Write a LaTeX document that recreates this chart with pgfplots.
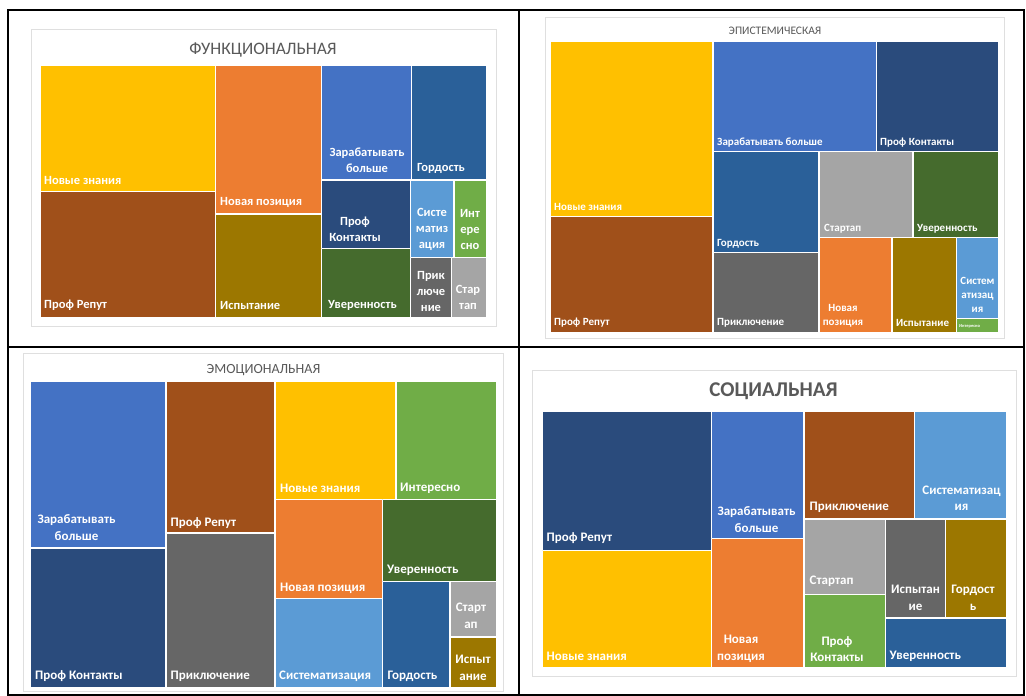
\documentclass[border=0pt]{standalone}
\usepackage{fontspec}
\setmainfont{Carlito}
\usepackage{pgfplots}
\pgfplotsset{compat=1.18}

\definecolor{cYel}{HTML}{FFC000}
\definecolor{cOra}{HTML}{ED7D31}
\definecolor{cBlu}{HTML}{4472C4}
\definecolor{cDkB}{HTML}{2A4B7C}
\definecolor{cBrn}{HTML}{A0501A}
\definecolor{cOli}{HTML}{9C7700}
\definecolor{cGor}{HTML}{2A6099}
\definecolor{cSky}{HTML}{5B9BD5}
\definecolor{cGrn}{HTML}{70AD47}
\definecolor{cDkG}{HTML}{456B2D}
\definecolor{cDGr}{HTML}{666666}
\definecolor{cLGr}{HTML}{A5A5A5}
\definecolor{cTit}{HTML}{595959}

\tikzset{
    lab/.style={anchor=west, inner sep=0pt, text=white},
    labc/.style={anchor=center, align=center, inner sep=0pt, text=white},
    fA/.style={font=\fontsize{12.5}{16}\selectfont\bfseries},
    fB/.style={font=\fontsize{11}{14}\selectfont\bfseries},
    fC/.style={font=\fontsize{13}{17}\selectfont\bfseries},
    fD/.style={font=\fontsize{13}{16.5}\selectfont\bfseries},
}

% one tile of a treemap: x0, y0, x1, y1 (pixels, y down), colour
\newcommand{\tile}[5]{%
  \addplot[fill=#5, draw=white, line width=1.2pt] coordinates
    {(#1,#2) (#3,#2) (#3,#4) (#1,#4) (#1,#2)};}

\begin{document}
\begin{tikzpicture}
\useasboundingbox (0,0) rectangle (1026pt,696pt);
\begin{axis}[
    at={(0,0)}, anchor=south west,
    width=1026pt, height=696pt, scale only axis,
    xmin=0, xmax=1026, ymin=0, ymax=696, y dir=reverse,
    hide axis, clip=false,
]
% chart frames
\draw[gray!25, fill=white] (axis cs:31,29) rectangle (axis cs:496,326);
\draw[gray!25, fill=white] (axis cs:545,17) rectangle (axis cs:1004,338);
\draw[gray!25, fill=white] (axis cs:23,353) rectangle (axis cs:503,691);
\draw[gray!25, fill=white] (axis cs:532,370) rectangle (axis cs:1016,676);

% ---------- ФУНКЦИОНАЛЬНАЯ ----------
\tile{40}{65}{215.5}{191.5}{cYel}
\tile{40}{191.5}{215.5}{318}{cBrn}
\tile{215.5}{65}{321.5}{214}{cOra}
\tile{215.5}{214}{321.5}{318}{cOli}
\tile{321.5}{65}{411.5}{180}{cBlu}
\tile{411.5}{65}{486.5}{180}{cGor}
\tile{321.5}{180}{410.5}{248.5}{cDkB}
\tile{321.5}{248.5}{410.5}{318}{cDkG}
\tile{410.5}{180}{454}{257.5}{cSky}
\tile{454}{180}{486.5}{257.5}{cGrn}
\tile{410.5}{257.5}{451.5}{318}{cDGr}
\tile{451.5}{257.5}{486.5}{318}{cLGr}
\node[text=cTit, font=\fontsize{17.5}{17.5}\selectfont] at (axis cs:263,50) {ФУНКЦИОНАЛЬНАЯ};
\node[lab, fA] at (axis cs:44,180) {Новые знания};
\node[lab, fA] at (axis cs:44,305) {Проф Репут};
\node[lab, fA] at (axis cs:220,202) {Новая позиция};
\node[lab, fA] at (axis cs:220,305) {Испытание};
\node[labc, fA] at (axis cs:367,160) {Зарабатывать\\больше};
\node[lab, fA] at (axis cs:417,168) {Гордость};
\node[labc, fA] at (axis cs:355,229) {Проф\\Контакты};
\node[labc, fA] at (axis cs:432,229.5) {Систе\\матиз\\ация};
\node[labc, fA] at (axis cs:470,229.5) {Инт\\ере\\сно};
\node[lab, fA] at (axis cs:328,305) {Уверенность};
\node[labc, fA] at (axis cs:431,291) {Прик\\лючe\\ние};
\node[labc, fA] at (axis cs:468,297.5) {Стар\\тап};

% ---------- ЭПИСТЕМИЧЕСКАЯ ----------
\tile{550}{41}{713}{216.5}{cYel}
\tile{550}{216.5}{713}{332.5}{cBrn}
\tile{713}{41}{876.5}{151.5}{cBlu}
\tile{876.5}{41}{998.5}{151.5}{cDkB}
\tile{713}{151.5}{819}{252.5}{cGor}
\tile{713}{252.5}{819}{332.5}{cDGr}
\tile{819}{151.5}{913}{237.5}{cLGr}
\tile{913}{151.5}{998.5}{237.5}{cDkG}
\tile{819}{237.5}{892}{332.5}{cOra}
\tile{892}{237.5}{956.5}{332.5}{cOli}
\tile{956.5}{237.5}{998.5}{318.5}{cSky}
\tile{956.5}{318.5}{998.5}{332.5}{cGrn}
\node[text=cTit, font=\fontsize{11.5}{11.5}\selectfont] at (axis cs:775,31) {ЭПИСТЕМИЧЕСКАЯ};
\node[lab, fB] at (axis cs:554,206.5) {Новые знания};
\node[lab, fB] at (axis cs:554,323) {Проф Репут};
\node[lab, fB] at (axis cs:717,142.5) {Зарабатывать больше};
\node[lab, fB] at (axis cs:880,142.5) {Проф Контакты};
\node[lab, fB] at (axis cs:717,244) {Гордость};
\node[lab, fB] at (axis cs:717,323) {Приключение};
\node[lab, fB] at (axis cs:824,228.5) {Стартап};
\node[lab, fB] at (axis cs:917,228.5) {Уверенность};
\node[labc, fB] at (axis cs:843,316) {Новая\\позиция};
\node[lab, fB] at (axis cs:896,323) {Испытание};
\node[labc, fB] at (axis cs:977.5,295) {Систем\\атизац\\ия};
\node[lab, font=\fontsize{4.5}{5}\selectfont\bfseries] at (axis cs:959,326.5) {Интересно};

% ---------- ЭМОЦИОНАЛЬНАЯ ----------
\tile{30}{381.5}{166}{548}{cBlu}
\tile{30}{548}{166}{687.5}{cDkB}
\tile{166}{381.5}{275}{533}{cBrn}
\tile{166}{533}{275}{687.5}{cDGr}
\tile{275}{381.5}{396}{499.5}{cYel}
\tile{396}{381.5}{496.5}{499.5}{cGrn}
\tile{275}{499.5}{382.5}{598.5}{cOra}
\tile{275}{598.5}{382.5}{687.5}{cSky}
\tile{382.5}{499.5}{496.5}{581.5}{cDkG}
\tile{382.5}{581.5}{450}{687.5}{cGor}
\tile{450}{581.5}{496.5}{637}{cLGr}
\tile{450}{637}{496.5}{687.5}{cOli}
\node[text=cTit, font=\fontsize{14}{14}\selectfont] at (axis cs:263.5,370) {ЭМОЦИОНАЛЬНАЯ};
\node[labc, fC] at (axis cs:76.5,528) {Зарабатывать\\больше};
\node[lab, fC] at (axis cs:170.5,523) {Проф Репут};
\node[lab, fC] at (axis cs:35,676.5) {Проф Контакты};
\node[lab, fC] at (axis cs:170.5,676.5) {Приключение};
\node[lab, fC] at (axis cs:280,488) {Новые знания};
\node[lab, fC] at (axis cs:400,488) {Интересно};
\node[lab, fC] at (axis cs:387,570.5) {Уверенность};
\node[lab, fC] at (axis cs:280,588) {Новая позиция};
\node[lab, fC] at (axis cs:279,676.5) {Систематизация};
\node[lab, fC] at (axis cs:387.5,676.5) {Гордость};
\node[labc, fC] at (axis cs:471,615.5) {Старт\\ап};
\node[labc, fC] at (axis cs:473,667.5) {Испыт\\ание};

% ---------- СОЦИАЛЬНАЯ ----------
\tile{542.5}{411}{711.5}{550.5}{cDkB}
\tile{542.5}{550.5}{711.5}{668}{cYel}
\tile{711.5}{411}{804}{538.5}{cBlu}
\tile{711.5}{538.5}{804}{668}{cOra}
\tile{804}{411}{914.5}{519}{cBrn}
\tile{914.5}{411}{1006.5}{519}{cSky}
\tile{804}{519}{885.5}{594.5}{cLGr}
\tile{804}{594.5}{885.5}{668}{cGrn}
\tile{885.5}{519}{945.5}{618}{cDGr}
\tile{945.5}{519}{1006.5}{618}{cOli}
\tile{885.5}{618}{1006.5}{668}{cGor}
\node[text=cTit, font=\fontsize{21}{21}\selectfont\bfseries] at (axis cs:773.5,391.5) {СОЦИАЛЬНАЯ};
\node[lab, fD] at (axis cs:546.5,538.5) {Проф Репут};
\node[lab, fD] at (axis cs:546.5,656.5) {Новые знания};
\node[labc, fD] at (axis cs:756.5,519.5) {Зарабатывать\\больше};
\node[labc, fD] at (axis cs:741,649) {Новая\\позиция};
\node[lab, fD] at (axis cs:809.5,507.5) {Приключение};
\node[labc, fD] at (axis cs:961.5,498) {Систематизац\\ия};
\node[lab, fD] at (axis cs:809.5,581.5) {Стартап};
\node[labc, fD] at (axis cs:837,649) {Проф\\Контакты};
\node[labc, fD] at (axis cs:915.5,598) {Испытан\\ие};
\node[labc, fD] at (axis cs:973,598) {Гордост\\ь};
\node[lab, fD] at (axis cs:889.5,656.5) {Уверенность};

% table rules
\draw[black, line width=1.5pt] (axis cs:8,10) rectangle (axis cs:1024,695);
\draw[black, line width=1.5pt] (axis cs:519,10) -- (axis cs:519,695);
\draw[black, line width=1.5pt] (axis cs:8,347) -- (axis cs:1024,347);
\end{axis}
\end{tikzpicture}
\end{document}
